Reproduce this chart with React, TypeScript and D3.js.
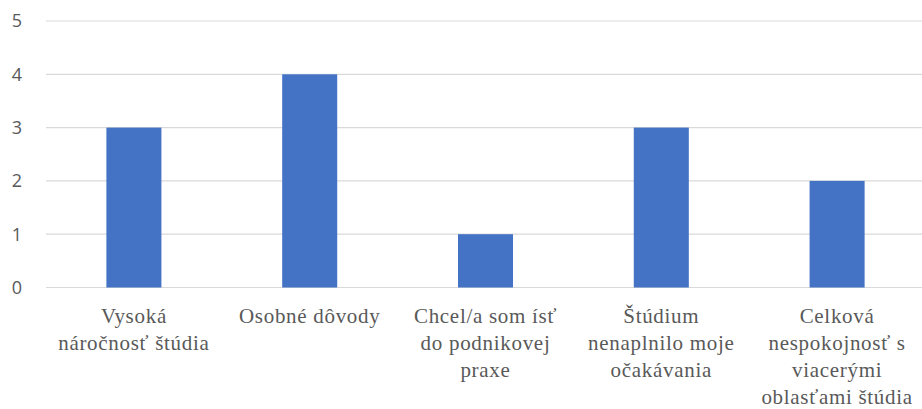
import React from "react";
import * as d3 from "d3";

const categories: string[][] = [
  ["Vysoká", "náročnosť štúdia"],
  ["Osobné dôvody"],
  ["Chcel/a som ísť", "do podnikovej", "praxe"],
  ["Štúdium", "nenaplnilo moje", "očakávania"],
  ["Celková", "nespokojnosť s", "viacerými", "oblasťami štúdia"],
];
const values: number[] = [3, 4, 1, 3, 2];
const yTicks: number[] = [0, 1, 2, 3, 4, 5];

const W = 922;
const H = 409;
const left = 46;
const right = 922;
const top = 21;
const bottom = 287.5;

export default function App() {
  const x = d3
    .scaleBand<number>()
    .domain(values.map((_, i) => i))
    .range([left, right + 3])
    .paddingInner(0.687)
    .paddingOuter(0.3435);
  const y = d3.scaleLinear().domain([0, 5]).range([bottom, top]);

  return (
    <svg
      width={W}
      height={H}
      style={{ position: "absolute", left: 0, top: 0 }}
    >
      <rect width={W} height={H} fill="#ffffff" />
      {yTicks.map((t) => (
        <g key={t}>
          <line
            x1={left}
            x2={right}
            y1={y(t)}
            y2={y(t)}
            stroke="#d9d9d9"
            strokeWidth={1.2}
          />
          <text
            x={22}
            y={y(t)}
            dy="0.35em"
            textAnchor="end"
            style={{ fontFamily: "'Open Sans', 'Noto Sans', sans-serif", fontSize: 18 }}
            fill="#595959"
          >
            {t}
          </text>
        </g>
      ))}
      {values.map((v, i) => (
        <rect
          key={i}
          x={x(i)}
          y={y(v)}
          width={x.bandwidth()}
          height={y(0) - y(v)}
          fill="#4472c4"
        />
      ))}
      {categories.map((lines, i) => (
        <text
          key={i}
          x={(x(i) as number) + x.bandwidth() / 2}
          y={322.5}
          textAnchor="middle"
          style={{
            fontFamily:
              "Liberation Serif, Tinos, Noto Serif, DejaVu Serif, FreeSerif, Times, Georgia, serif",
            fontSize: 21,
            letterSpacing: 0.7,
          }}
          fill="#595959"
        >
          {lines.map((l, j) => (
            <tspan key={j} x={(x(i) as number) + x.bandwidth() / 2} dy={j === 0 ? 0 : 27}>
              {l}
            </tspan>
          ))}
        </text>
      ))}
    </svg>
  );
}
